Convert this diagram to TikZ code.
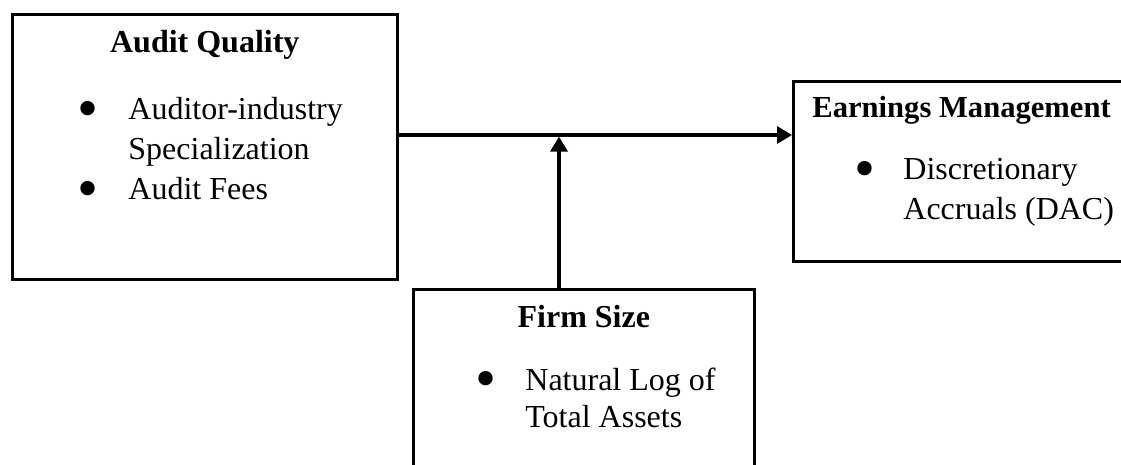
\documentclass[tikz,border=0pt]{standalone}
\usepackage{fontspec}
\setmainfont{Liberation Serif}
\usetikzlibrary{arrows.meta}

\begin{document}
\begin{tikzpicture}[x=0.5pt,y=-0.5pt,
	box/.style={draw,line width=1.3pt,anchor=north west,inner sep=0pt},
	head/.style={anchor=base,font=\fontsize{16}{20}\selectfont\bfseries,inner sep=0pt},
	item/.style={anchor=base west,font=\fontsize{16}{20}\selectfont,inner sep=0pt},
	dot/.style={anchor=center,font=\fontsize{30}{20}\selectfont,inner sep=0pt},
	link/.style={line width=1.7pt,-{Triangle[length=7.5pt,width=8.5pt]}}]
	\useasboundingbox (0,0) rectangle (1121,465);

	% the three boxes
	\node[box,minimum width=192.5pt,minimum height=132.5pt] (aq) at (11,13) {};
	\node[box,minimum width=176pt,minimum height=90pt] (em) at (792,80) {};
	\node[box,minimum width=170.5pt,minimum height=100pt] (fs) at (412,288) {};

	% Audit Quality
	\node[head] (aqhead) at (aq.north |- 0,53) {Audit Quality};
	\node[dot] (aqdot1) at (88,115) {\textbullet};
	\node[item] (aqtext1) at (128,120) {Auditor-industry};
	\node[item] (aqtext2) at (128,160) {Specialization};
	\node[dot] (aqdot2) at (88,195) {\textbullet};
	\node[item] (aqtext3) at (128,200) {Audit Fees};

	% Earnings Management
	\node[item,font=\fontsize{15.3}{20}\selectfont\bfseries] (emhead) at (812,118) {Earnings Management};
	\node[dot] (emdot) at (865,175) {\textbullet};
	\node[item] (emtext1) at (903,180) {Discretionary};
	\node[item] (emtext2) at (903,220) {Accruals (DAC)};

	% Firm Size
	\node[head] (fshead) at (fs.north |- 0,328) {Firm Size};
	\node[dot] (fsdot) at (486,385) {\textbullet};
	\node[item] (fstext1) at (525,390) {Natural Log of};
	\node[item] (fstext2) at (525,428) {Total Assets};

	% arrows
	\coordinate (mid) at (559,135);
	\draw[link] (aq.east |- mid) -- (em.west |- mid);
	\draw[link,shorten >=0.8pt] (fs.north -| mid) -- (mid);
\end{tikzpicture}
\end{document}
